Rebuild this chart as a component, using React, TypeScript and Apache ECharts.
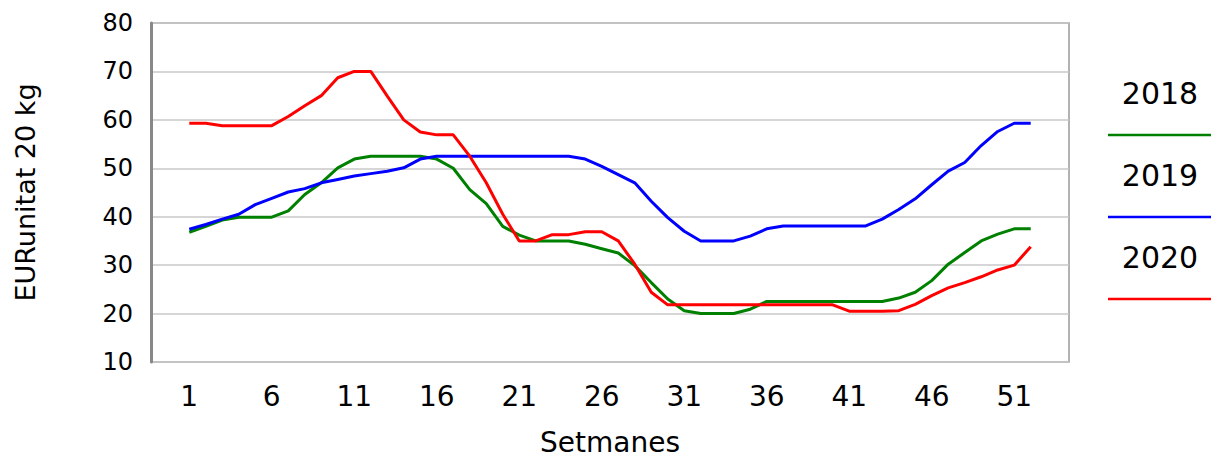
import React, { useEffect, useRef } from "react";
import * as echarts from "echarts";

const weeks = [
  1, 2, 3, 4, 5, 6, 7, 8, 9, 10, 11, 12, 13, 14, 15, 16, 17, 18, 19, 20, 21, 22, 23, 24, 25, 26,
  27, 28, 29, 30, 31, 32, 33, 34, 35, 36, 37, 38, 39, 40, 41, 42, 43, 44, 45, 46, 47, 48, 49, 50, 51, 52,
];
const weekTicks = [1, 6, 11, 16, 21, 26, 31, 36, 41, 46, 51];

const seriesNames = ["2018", "2019", "2020"];
const seriesColors = ["#008000", "#0000ff", "#ff0000"];

const values2018 = [
  36.8, 38, 39.3, 39.9, 39.9, 39.9, 41.2, 44.6, 47, 50.1, 51.9, 52.5, 52.5, 52.5, 52.5, 51.9, 50,
  45.6, 42.7, 38, 36.2, 35, 35, 35, 34.3, 33.4, 32.5, 29.9, 26.4, 23, 20.6, 20, 20, 20, 20.9, 22.5,
  22.5, 22.5, 22.5, 22.5, 22.5, 22.5, 22.5, 23.2, 24.4, 26.8, 30.2, 32.6, 35, 36.4, 37.5, 37.5,
];
const values2019 = [
  37.4, 38.4, 39.5, 40.5, 42.5, 43.8, 45.1, 45.8, 47, 47.7, 48.4, 48.9, 49.4, 50.1, 51.9, 52.5,
  52.5, 52.5, 52.5, 52.5, 52.5, 52.5, 52.5, 52.5, 51.9, 50.4, 48.7, 47, 43.2, 39.8, 37, 35, 35, 35,
  36, 37.5, 38.1, 38.1, 38.1, 38.1, 38.1, 38.1, 39.5, 41.5, 43.7, 46.6, 49.4, 51.2, 54.7, 57.6,
  59.3, 59.3,
];
const values2020 = [
  59.3, 59.3, 58.8, 58.8, 58.8, 58.8, 60.7, 62.9, 65, 68.7, 70, 70, 64.9, 60, 57.5, 56.9, 56.9,
  52.5, 47, 40.5, 35, 35, 36.3, 36.3, 36.9, 36.9, 35, 30.2, 24.4, 21.8, 21.8, 21.8, 21.8, 21.8,
  21.8, 21.8, 21.8, 21.8, 21.8, 21.8, 20.5, 20.5, 20.5, 20.6, 21.9, 23.7, 25.3, 26.4, 27.6, 29, 30,
  33.8,
];
const seriesValues = [values2018, values2019, values2020];

const FONT = "'DejaVu Sans', sans-serif";

export default function App() {
  const ref = useRef<HTMLDivElement>(null);

  useEffect(() => {
    if (!ref.current) return;
    const chart = echarts.init(ref.current, undefined, { renderer: "svg" });

    const legendGraphic: any[] = [];
    seriesNames.forEach((name, i) => {
      legendGraphic.push({
        type: "text",
        x: 1160,
        y: 93 + i * 82,
        style: {
          text: name,
          fill: "#000",
          font: `30px ${FONT}`,
          textAlign: "center",
          textVerticalAlign: "middle",
        },
      });
      legendGraphic.push({
        type: "line",
        shape: { x1: 1108, y1: 135 + i * 82, x2: 1211, y2: 135 + i * 82 },
        style: { stroke: seriesColors[i], lineWidth: 2.5 },
      });
    });

    const option: any = {
      animation: false,
      backgroundColor: "#fff",
      grid: {
        left: 151,
        top: 23,
        width: 918,
        height: 340,
        show: true,
        borderColor: "#999",
        borderWidth: 1.5,
        backgroundColor: "#fff",
      },
      xAxis: {
        type: "value",
        min: -1.32,
        max: 54.32,
        name: "Setmanes",
        nameLocation: "middle",
        nameGap: 66,
        nameTextStyle: { fontFamily: FONT, fontSize: 28, color: "#000" },
        axisLine: {
          show: true,
          onZero: false,
          lineStyle: { color: "#333", width: 2, shadowColor: "#bbb", shadowOffsetY: 2, shadowBlur: 0 },
        },
        axisTick: { show: false },
        splitLine: { show: false },
        axisLabel: {
          customValues: weekTicks,
          fontFamily: FONT,
          fontSize: 28,
          color: "#000",
          margin: 20,
        },
      },
      yAxis: {
        type: "value",
        min: 10,
        max: 80,
        interval: 10,
        name: "EURunitat 20 kg",
        nameLocation: "middle",
        nameGap: 112,
        nameRotate: 90,
        nameTextStyle: { fontFamily: FONT, fontSize: 27, color: "#000" },
        axisLine: { show: true, onZero: false, lineStyle: { color: "#888", width: 3 } },
        axisTick: { show: false },
        splitLine: { show: true, lineStyle: { color: "#c8c8c8", width: 1.5 } },
        axisLabel: { fontFamily: FONT, fontSize: 24, color: "#000", margin: 18 },
      },
      series: seriesNames.map((name, i) => ({
        type: "line",
        name,
        data: weeks.map((w, j) => [w, seriesValues[i][j]]),
        symbol: "none",
        lineStyle: { color: seriesColors[i], width: 3 },
        itemStyle: { color: seriesColors[i] },
        z: 3 + (i === 2 ? 1 : 0),
      })),
      graphic: legendGraphic,
    };

    chart.setOption(option);
    return () => chart.dispose();
  }, []);

  return (
    <div
      ref={ref}
      style={{ position: "fixed", left: 0, top: 0, width: 1211, height: 461, background: "#fff" }}
    />
  );
}
